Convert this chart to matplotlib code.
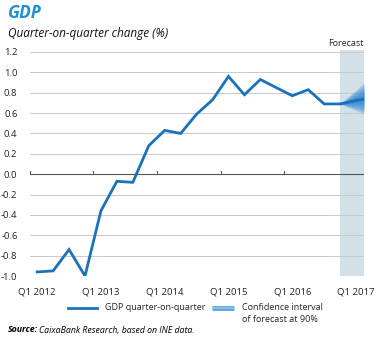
import numpy as np
import matplotlib
matplotlib.use("Agg")
import matplotlib.pyplot as plt
from matplotlib.lines import Line2D

# ---- data ----
quarters = ["Q1 2012", "Q2 2012", "Q3 2012", "Q4 2012",
            "Q1 2013", "Q2 2013", "Q3 2013", "Q4 2013",
            "Q1 2014", "Q2 2014", "Q3 2014", "Q4 2014",
            "Q1 2015", "Q2 2015", "Q3 2015", "Q4 2015",
            "Q1 2016", "Q2 2016", "Q3 2016", "Q4 2016"]
gdp_qoq = [-0.96, -0.95, -0.74, -1.00,
           -0.36, -0.07, -0.08, 0.28,
           0.43, 0.40, 0.59, 0.73,
           0.96, 0.78, 0.93, 0.85,
           0.77, 0.83, 0.69, 0.69]
forecast_x = [19, 20.5]
forecast_center = [0.69, 0.74]
forecast_upper = [0.69, 0.90]
forecast_lower = [0.69, 0.59]
tick_positions = [0, 4, 8, 12, 16, 20]
tick_labels = ["Q1 2012", "Q1 2013", "Q1 2014", "Q1 2015", "Q1 2016", "Q1 2017"]
y_ticks = [-1.0, -0.8, -0.6, -0.4, -0.2, 0.0, 0.2, 0.4, 0.6, 0.8, 1.0, 1.2]

plt.rcParams['font.family'] = ['Open Sans', 'DejaVu Sans']

W, H = 384, 338
fig = plt.figure(figsize=(W / 100, H / 100), dpi=100)
ax = fig.add_axes([30 / W, 1 - 276 / H, (364 - 30) / W, (276 - 52) / H])

line_blue = '#1a72bb'
ax.set_xlim(-0.45, 20.5)
ax.set_ylim(-1.0, 1.2)

# forecast band
ax.axvspan(19, 20.5, ymin=0, ymax=1.01, color='#d3e0e8', zorder=0, lw=0, clip_on=False)

# gridlines
for yv in y_ticks:
    if yv == -1.0:
        continue
    if abs(yv) < 1e-9:
        ax.axhline(yv, color='#555555', lw=0.8, zorder=1)
    else:
        ax.axhline(yv, color='#c9c9c9', lw=0.7, zorder=1)
for xb in [-0.45, 3.5, 7.5, 11.5, 15.5]:
    ax.plot([xb, xb], [0, 0.03], color='#555555', lw=0.8, zorder=1)

# fan chart (layered for gradient)
fx = np.array(forecast_x)
fc = np.array(forecast_center)
fu = np.array(forecast_upper)
fl = np.array(forecast_lower)
n = 8
for k in range(n, 0, -1):
    f = k / n
    ax.fill_between(fx, fc + (fu - fc) * f, fc - (fc - fl) * f,
                    color='#1f80d4', alpha=0.2, lw=0, zorder=2)
ax.plot(fx, fc, color=line_blue, lw=2.0, zorder=3, solid_capstyle='butt')

# main line
x = np.arange(len(gdp_qoq))
ax.plot(x, gdp_qoq, color=line_blue, lw=2.0, zorder=4, solid_joinstyle='miter')

ax.set_yticks(y_ticks)
ax.set_yticklabels([f"{v:.1f}" for v in y_ticks], fontsize=6.8, color='#222222')
ax.set_xticks(tick_positions)
ax.set_xticklabels(tick_labels, fontsize=6.8, color='#222222')
ax.tick_params(axis='both', length=0)
ax.tick_params(axis='y', pad=9)
ax.tick_params(axis='x', pad=8)
for s in ax.spines.values():
    s.set_visible(False)

ax.text(20.45, 1.24, "Forecast", ha='right', va='bottom', fontsize=6.5, color='#222222')

# titles
fig.text(8 / W, 1 - 13 / H, "GDP", fontsize=12.5, fontweight='bold', fontstyle='italic',
         color='#1f8fd8', va='center', ha='left')
fig.text(8 / W, 1 - 33 / H, "Quarter-on-quarter change (%)", fontsize=8.5, fontstyle='italic',
         color='#111111', va='center', ha='left')

# legend (manual)
ly = 1 - 308 / H
fig.add_artist(Line2D([68 / W, 97 / W], [ly, ly], color=line_blue, lw=2.0))
fig.text(105 / W, ly, "GDP quarter-on-quarter", fontsize=6.5, va='center', ha='left', color='#222222')
fig.add_artist(Line2D([212 / W, 234 / W], [ly, ly], color='#5ea6e2', lw=3.5, solid_capstyle='butt'))
fig.add_artist(Line2D([212 / W, 234 / W], [ly, ly], color='#8cc2ee', lw=1.2, solid_capstyle='butt'))
fig.text(242 / W, ly, "Confidence interval", fontsize=6.5, va='center', ha='left', color='#222222')
fig.text(242 / W, 1 - 319 / H, "of forecast at 90%", fontsize=6.5, va='center', ha='left', color='#222222')

# source
s1 = fig.text(8 / W, 1 - 330 / H, "Source:", fontsize=6.3, fontweight='bold', fontstyle='italic',
              va='center', ha='left')
fig.canvas.draw()
bb = s1.get_window_extent(renderer=fig.canvas.get_renderer())
fig.text((bb.x1 + 1.0) / W, 1 - 330 / H, "CaixaBank Research, based on INE data.", fontsize=6.3,
         fontstyle='italic', va='center', ha='left')

fig.savefig("out.png", dpi=100)
